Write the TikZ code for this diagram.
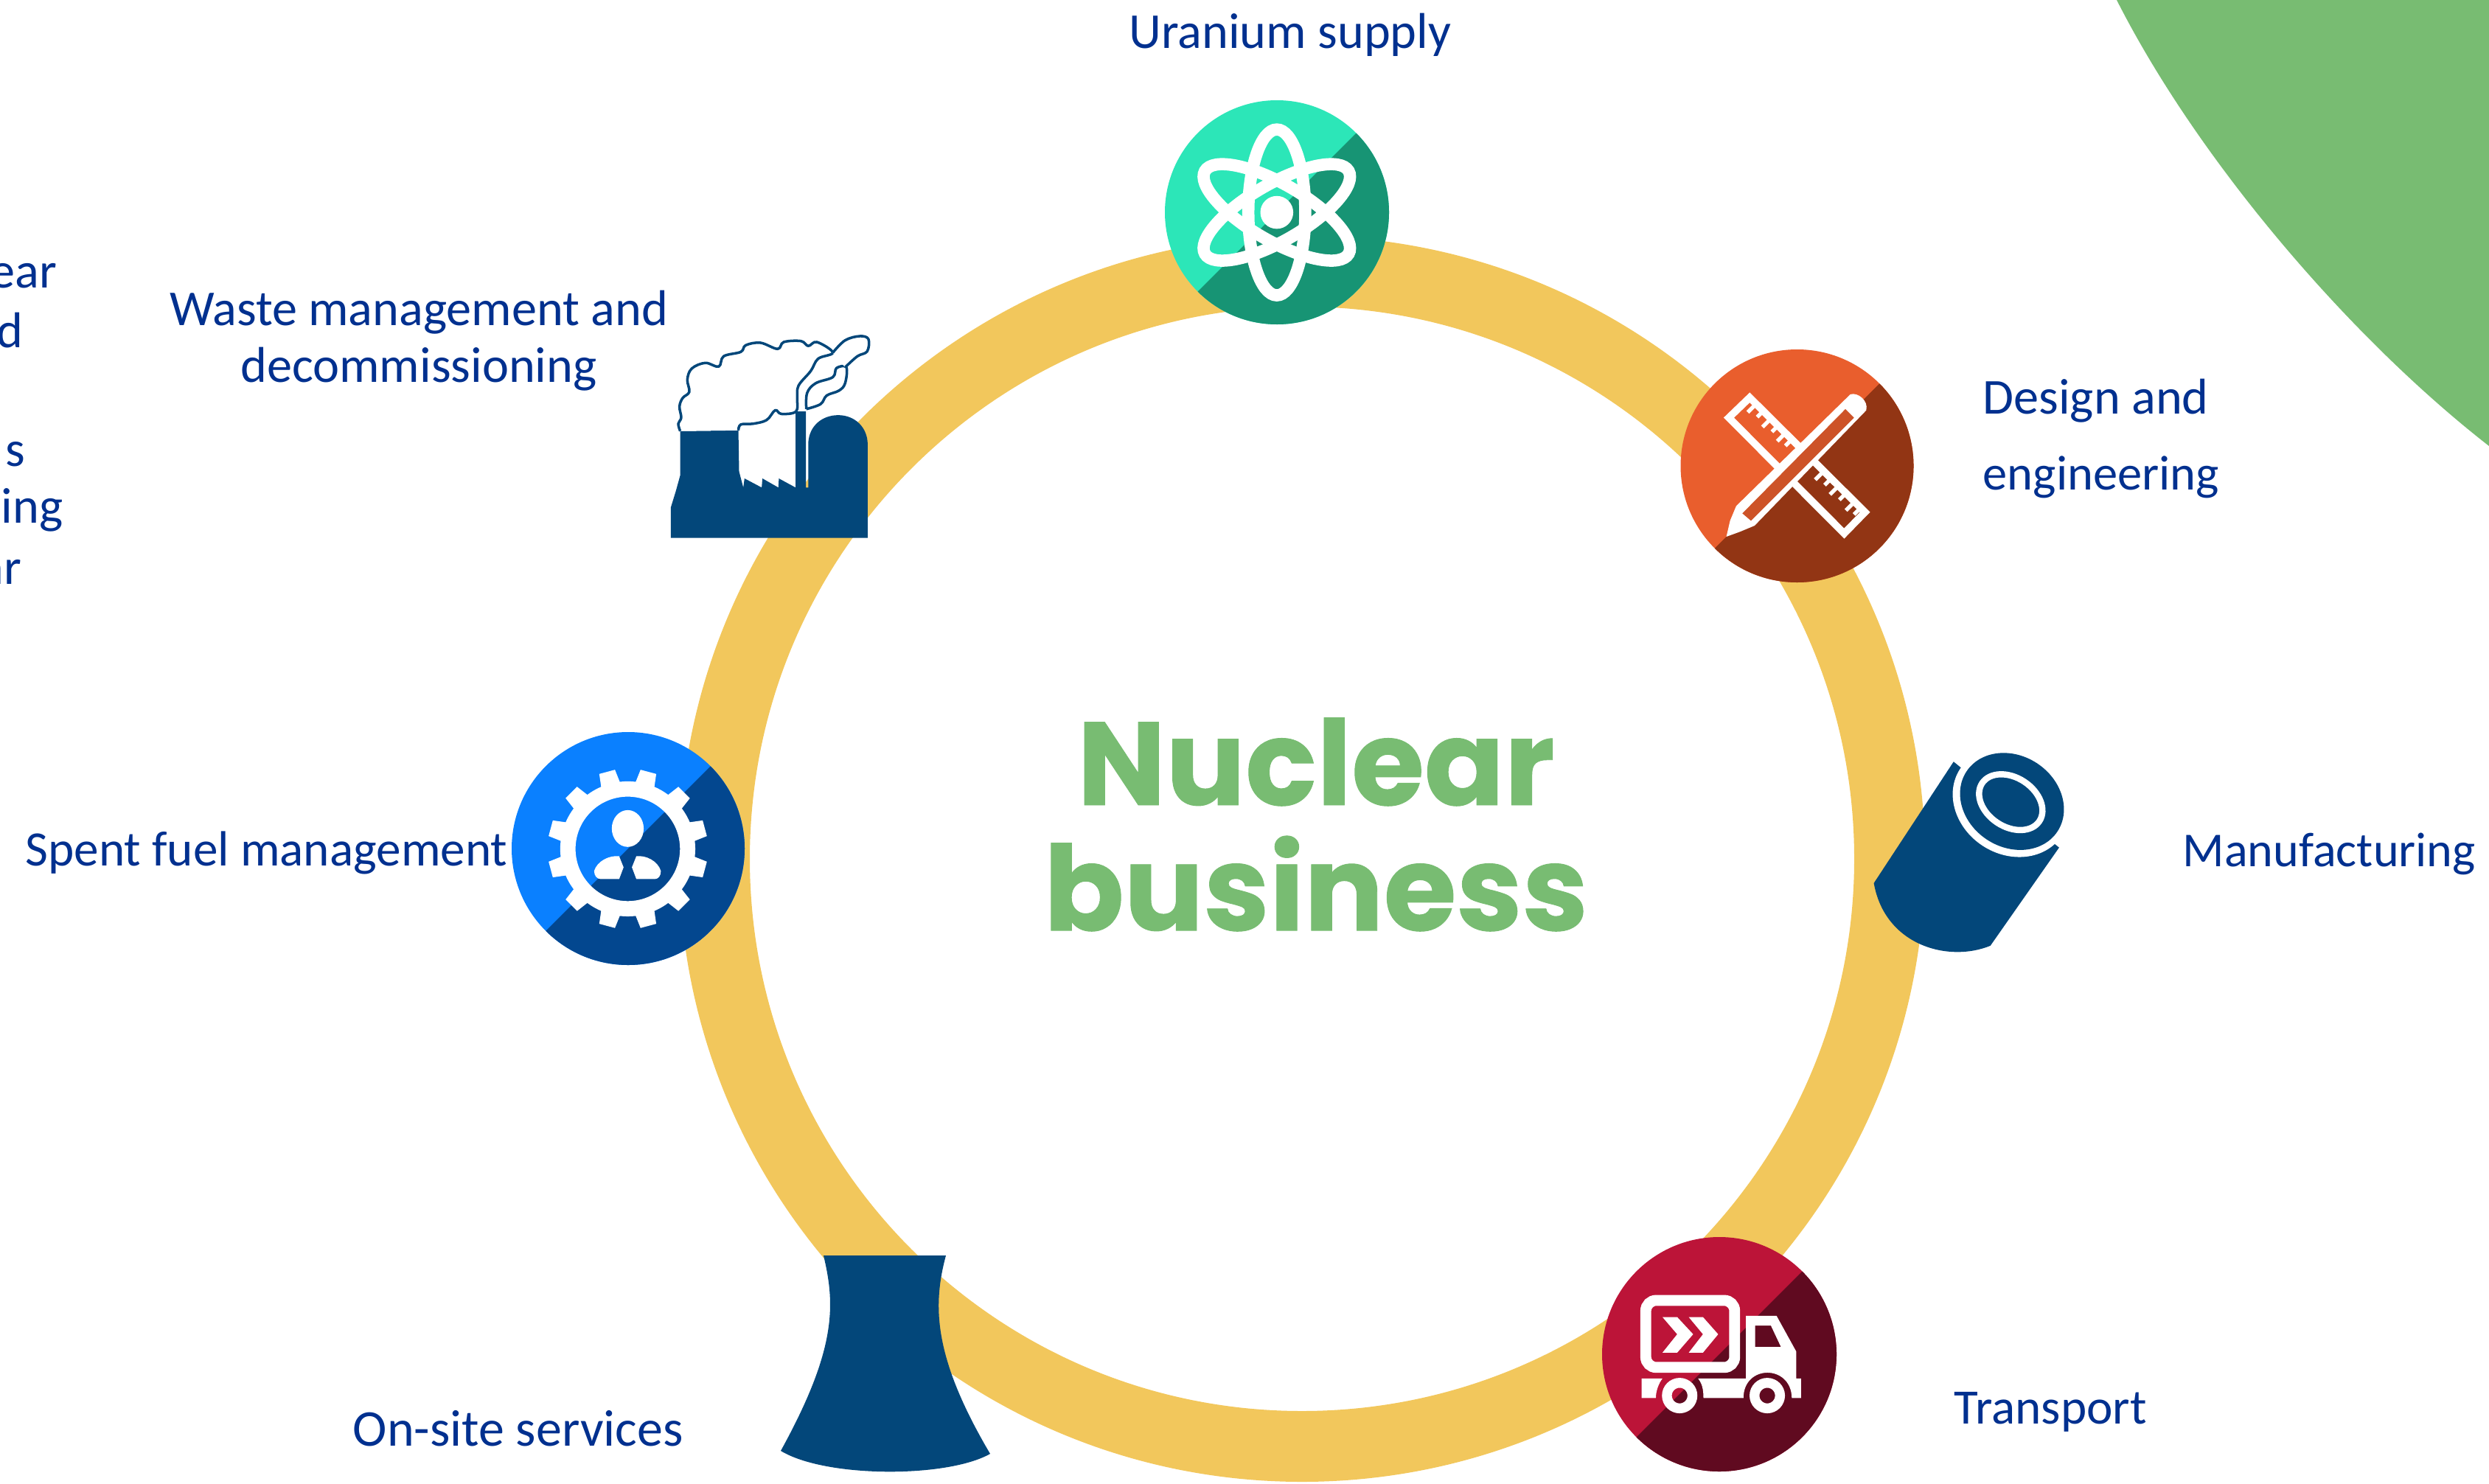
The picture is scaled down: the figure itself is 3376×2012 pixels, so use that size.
\documentclass[tikz,border=0pt]{standalone}
\usepackage{fontspec}
\setmainfont{Carlito}
\newfontfamily\titlefont{Poppins}[BoldFeatures={FakeBold=0.6}]
\definecolor{ringc}{HTML}{F2C75C}
\definecolor{greenc}{HTML}{78BC72}
\definecolor{navy}{HTML}{03477A}
\definecolor{textc}{HTML}{00308F}
\definecolor{tealL}{HTML}{2CE6B8}
\definecolor{tealD}{HTML}{179474}
\definecolor{oranL}{HTML}{E95E2D}
\definecolor{oranD}{HTML}{923514}
\definecolor{blueL}{HTML}{0A80FF}
\definecolor{blueD}{HTML}{03478F}
\definecolor{redL}{HTML}{BC1438}
\definecolor{redD}{HTML}{600A20}
\tikzset{
  zthree/.style={x=0.0033333cm,y=-0.0033333cm},
  lab/.style={inner sep=0,text=textc,font=\fontsize{#1}{23}\selectfont},
  lab/.default=19.4,
  bigt/.style={inner sep=0,text=greenc,font=\titlefont\bfseries\fontsize{45.5}{50}\selectfont},
  smoke/.style={draw=navy,fill=white,line width=1pt,line join=round}
}
\newcommand{\icondisk}[5]{%
  \fill[#4] (#1,#2) circle (#3);
  \begin{scope}
    \clip (#1,#2) circle (#3);
    \fill[#5] (#1,#2) +(250,-250) -- +(250,250) -- +(-250,250) -- cycle;
  \end{scope}}
\begin{document}
\begin{tikzpicture}[x=0.01cm,y=-0.01cm]
\useasboundingbox (0,0) rectangle (3376,2012);
\clip (0,0) rectangle (3376,2012);
% green corner
\fill[greenc] (2871,0) .. controls (2981,217) and (3186,457) .. (3376,605) -- (3376,0) -- cycle;
% ring
\draw[ringc,line width=27.3pt] (1766,1165) circle (797);
% atom
\icondisk{1732}{288}{152}{tealL}{tealD}
\begin{scope}[shift={(1600,150)},zthree]
\begin{scope}[shift={(396,415)}]
\foreach \a in {0,60,120}
  \draw[white,line width=4.7pt,rotate=\a] (0,0) ellipse (116 and 338);
\fill[white] (0,0) circle (67);
\end{scope}
\end{scope}
% design
\icondisk{2437.5}{632}{158}{oranL}{oranD}
\begin{scope}[shift={(2300,500)},zthree]
\draw[white,line width=2.8pt,line join=miter] (135,200) -- (220,118) -- (690,585) -- (605,672) -- cycle;
\foreach \px/\py/\l in {240/150/40,270/178/28,300/210/40,330/238/28,360/268/40,385/295/28,515/425/40,545/455/28,575/485/40,605/515/28,640/550/40,665/575/28}
  \draw[white,line width=1.5pt] (\px,\py) -- ++(-\l*0.7,\l*0.7);
\fill[white] (630,105) .. controls (660,95) and (705,130) .. (695,170) -- (240,640) -- (180,665) -- (125,685) -- (140,620) -- (165,560) -- cycle;
\fill[oranL!88!black] (610,165) -- (645,200) -- (225,620) -- (190,590) -- cycle;
\end{scope}
% manufacturing cylinder
\begin{scope}[shift={(2500,950)},zthree]
\fill[navy] (125,745) -- (450,250) -- (880,600) -- (600,1000) .. controls (430,1070) and (170,1000) .. (125,745) -- cycle;
\fill[white] (684,415) [rotate around={-33.5:(684,415)}] ellipse (248 and 212);
\fill[navy] (688,412) [rotate around={-33.5:(688,412)}] ellipse (222 and 186);
\draw[white,line width=2.4pt] (683,415) [rotate around={-33.5:(683,415)}] ellipse (140 and 100);
\end{scope}
% transport
\icondisk{2332}{1837}{159}{redL}{redD}
\begin{scope}[shift={(2200,1720)},zthree]
\draw[white,line width=4.2pt,rounded corners=4pt] (97,132) rectangle (459,405);
\fill[white] (165,200) -- (225,200) -- (290,270) -- (225,345) -- (165,345) -- (225,270) -- cycle;
\fill[white] (272,200) -- (330,200) -- (392,270) -- (330,345) -- (272,345) -- (330,270) -- cycle;
\fill[white,even odd rule] (505,195) -- (630,195) -- (710,340) -- (710,450) -- (730,450) -- (730,530) -- (692,530) .. controls (690,392) and (495,392) .. (495,530) -- (332,530) .. controls (332,490) and (325,470) .. (310,450) -- (505,450) -- cycle
  (543,235) -- (607,235) -- (648,322) -- (543,322) -- cycle;
\fill[white] (80,450) -- (165,450) .. controls (150,470) and (138,500) .. (138,530) -- (80,530) -- cycle;
\foreach \cx in {235,592}
  \draw[white,line width=3.8pt] (\cx,520) circle (52);
\end{scope}
% cooling tower
\fill[navy] (1117,1703) .. controls (1133,1770) and (1135,1830) .. (1059,1968) .. controls (1120,2005) and (1285,2005) .. (1343,1972) .. controls (1265,1840) and (1265,1770) .. (1283,1703) -- cycle;
% spent fuel gear
\icondisk{852}{1151}{158}{blueL}{blueD}
\begin{scope}[shift={(720,1020)},zthree]
\begin{scope}[shift={(395,395)}]
\draw[white,line width=5.9pt] (0,0) circle (244);
\foreach \a in {15,45,...,345}
  \fill[white,rotate=\a] (250,-42) -- (325,-33) -- (325,33) -- (250,42) -- cycle;
\end{scope}
\fill[white] (395,312) ellipse (65 and 75);
\fill[white] (258,485) .. controls (270,445) and (320,420) .. (360,425) -- (378,470) -- (360,518) -- (285,518) .. controls (270,518) and (258,505) .. (258,485) -- cycle;
\fill[white] (530,485) .. controls (518,445) and (470,420) .. (430,425) -- (412,470) -- (430,518) -- (505,518) .. controls (520,518) and (530,505) .. (530,485) -- cycle;
\end{scope}
% factory
\begin{scope}[shift={(900,440)},zthree]
\fill[navy] (30,870) -- (30,745) -- (50,680) -- (68,615) -- (68,435) -- (305,432) -- (308,600) -- (325,665) -- (330,628) -- (400,665) -- (403,628) -- (468,665) -- (470,628) -- (538,665) -- (538,355) -- (580,355) -- (580,665) -- (590,665) -- (590,480) .. controls (595,410) and (650,370) .. (712,370) .. controls (780,370) and (832,420) .. (832,490) -- (832,870) -- cycle;
\draw[smoke] plot[smooth,tension=0.6] coordinates {(68,435) (60,405) (72,380) (65,335) (78,300) (105,275) (97,225) (115,180) (170,157) (225,172) (245,130) (315,112) (335,85) (395,75) (465,100) (490,72) (560,68) (590,88) (625,72) (690,115) (630,140) (600,190) (550,250) (545,300) (540,355) (480,365) (455,350) (420,390) (365,405) (315,408) (305,432)};
\draw[smoke] plot[smooth,tension=0.6] coordinates {(582,345) (585,280) (620,240) (690,215) (705,178) (745,175) (740,240) (715,270) (665,290) (640,325) (582,345)};
\draw[smoke] plot[smooth,tension=0.6] coordinates {(690,115) (740,65) (800,48) (835,60) (830,110) (790,130) (740,175)};
\end{scope}
% title
\node[bigt,anchor=base] (t1) at (1785,1092) {Nuclear};
\node[bigt,anchor=base] (t2) at (1785,1262) {business};
% labels
\node[lab,anchor=base] (uran) at (1750,65) {Uranium supply};
\node[lab,anchor=base] (waste1) at (568,441) {Waste management and};
\node[lab,anchor=base] (waste2) at (568,518) {decommissioning};
\node[lab,anchor=base west] (des1) at (2689,561) {Design and};
\node[lab=18.9,anchor=base west] (des2) at (2689,664) {engineering};
\node[lab=18.8,anchor=base west] (manu) at (2960,1175) {Manufacturing};
\node[lab=19.1,anchor=base west] (trans) at (2650,1931) {Transport};
\node[lab=19.9,anchor=base west] (site) at (478,1961) {On-site services};
\node[lab=19.1,anchor=base east] (spent) at (689,1174) {Spent fuel management};
\node[lab,anchor=base east] (c1) at (78,390) {ear};
\node[lab,anchor=base east] (c2) at (32,471) {d};
\node[lab,anchor=base east] (c3) at (35,632) {s};
\node[lab,anchor=base east] (c4) at (86,709) {ing};
\node[lab,anchor=base east] (c5) at (30,792) {ar};
\end{tikzpicture}
\end{document}
